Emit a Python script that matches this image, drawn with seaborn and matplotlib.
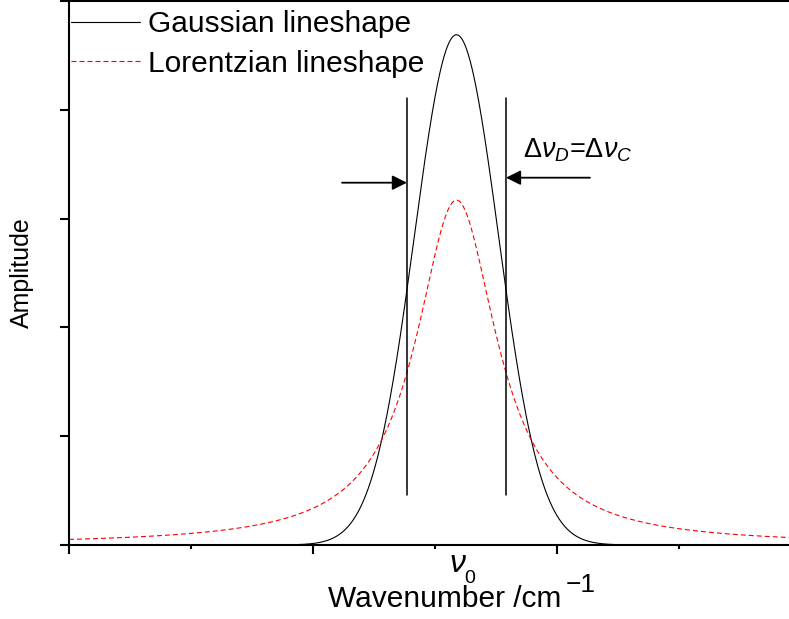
import numpy as np
import pandas as pd
import matplotlib
matplotlib.use("Agg")
import matplotlib.pyplot as plt
import seaborn as sns

# Line-shape parameters (x: one major tick = 1 unit, y: one tick = 1 unit)
nu0 = 1.588            # line centre
fwhm = 0.406           # common full width at half maximum
peak_gauss = 4.69      # Gaussian peak amplitude
peak_lorentz = 3.17    # Lorentzian peak amplitude (equal area)
x_range = [0.0, 3.0]
y_range = [0.0, 5.0]
x_major = [0, 1, 2, 3]
x_minor = [0.5, 1.5, 2.5]
y_ticks = [0, 1, 2, 3, 4, 5]
marker_span = [0.459, 4.11]      # vertical extent of the FWHM markers
arrow_left = [1.119, 3.33]       # tail x, y of the left arrow
arrow_right = [2.135, 3.376]     # tail x, y of the right arrow
series_labels = ["Gaussian lineshape", "Lorentzian lineshape"]

sns.set_style("ticks")
plt.rcParams["font.family"] = ["Liberation Sans", "DejaVu Sans"]
plt.rcParams["mathtext.fontset"] = "custom"
plt.rcParams["mathtext.rm"] = "Liberation Sans"
plt.rcParams["mathtext.it"] = "Liberation Sans:italic"
plt.rcParams["text.color"] = "black"
plt.rcParams["axes.labelcolor"] = "black"

# Profiles sampled on a fine wavenumber grid
x = np.linspace(x_range[0], x_range[1], 1501)
d = (x - nu0) / fwhm
df = pd.DataFrame({
    "x": x,
    "gauss": peak_gauss * np.exp(-4 * np.log(2) * d ** 2),
    "lorentz": peak_lorentz / (1 + 4 * d ** 2),
})

W, H = 789, 619
fig = plt.figure(figsize=(W / 100, H / 100), dpi=100)
ax = fig.add_axes([69 / W, 74 / H, 732 / W, 544 / H])

sns.lineplot(data=df, x="x", y="gauss", ax=ax, color="black", lw=0.8,
             label=series_labels[0])
sns.lineplot(data=df, x="x", y="lorentz", ax=ax, color="red", lw=0.8,
             linestyle=(0, (4.5, 2.7)), label=series_labels[1])

ax.set_xlim(*x_range)
ax.set_ylim(*y_range)
ax.set_xticks(x_major)
ax.set_xticks(x_minor, minor=True)
ax.set_yticks(y_ticks)
ax.set_xticklabels([])
ax.set_yticklabels([])
for s in ax.spines.values():
    s.set_linewidth(1.5)
    s.set_color("black")
ax.tick_params(axis="both", which="major", direction="out", length=6.5,
               width=1.5, color="black")
ax.tick_params(axis="x", which="minor", direction="out", length=3,
               width=1.5, color="black")

# FWHM markers and arrows
for xm in (nu0 - fwhm / 2, nu0 + fwhm / 2):
    ax.plot([xm, xm], marker_span, color="black", lw=1.1)
arrow_kw = dict(arrowstyle="-|>", mutation_scale=22, lw=1.3, color="black",
                shrinkA=0, shrinkB=0)
ax.annotate("", xy=(nu0 - fwhm / 2, arrow_left[1]), xytext=(arrow_left[0], arrow_left[1]),
            arrowprops=arrow_kw)
ax.annotate("", xy=(nu0 + fwhm / 2, arrow_right[1]), xytext=(arrow_right[0], arrow_right[1]),
            arrowprops=arrow_kw)
ax.text(1.862, 3.56, r"$\Delta\nu_D$=$\Delta\nu_C$", fontsize=19.5,
        ha="left", va="baseline")

# Line-centre label under the axis
fig.text(458 / W, 1 - 572 / H, r"$\nu$", fontsize=23, ha="center", va="baseline")
fig.text(470 / W, 1 - 583 / H, "0", fontsize=14, ha="center", va="baseline")

ax.set_xlabel("Wavenumber /cm", fontsize=21.5)
ax.xaxis.set_label_coords((445 - 69) / 732, (545 - 585) / 544)
fig.text(566 / W, 1 - 592 / H, "\u22121", fontsize=19, ha="left", va="baseline")
ax.set_ylabel("Amplitude", fontsize=18)
ax.yaxis.set_label_coords((34 - 69) / 732, 0.5)

ax.legend(loc="upper left", bbox_to_anchor=(-2 / 732, 1 - 5 / 544), frameon=False,
          fontsize=21.5, handlelength=2.3, handletextpad=0.27,
          borderaxespad=0, borderpad=0.14, labelspacing=0.39)

fig.savefig("out.png", dpi=100)
